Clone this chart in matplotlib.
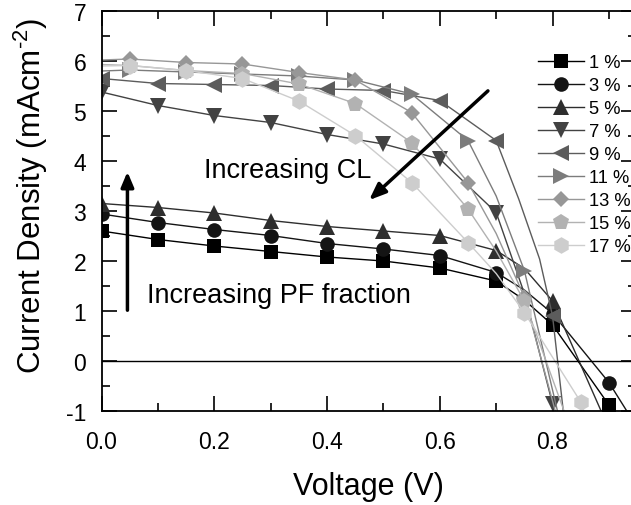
import matplotlib
matplotlib.use("Agg")
import matplotlib.pyplot as plt

plt.rcParams['font.family'] = ['Liberation Sans', 'DejaVu Sans']
plt.rcParams['mathtext.fontset'] = 'custom'
plt.rcParams['mathtext.rm'] = 'Liberation Sans'
plt.rcParams['axes.unicode_minus'] = False

# voltage grids where the markers sit
v_a = [0.0, 0.1, 0.2, 0.3, 0.4, 0.5, 0.6, 0.7, 0.8, 0.9]
v_b = [0.05, 0.15, 0.25, 0.35, 0.45, 0.55, 0.65, 0.75, 0.85]

labels = ['1 %', '3 %', '5 %', '7 %', '9 %', '11 %', '13 %', '15 %', '17 %']

# current density at the markers (mA cm^-2)
j_1 = [2.60, 2.43, 2.30, 2.19, 2.08, 2.00, 1.86, 1.60, 0.72, -0.88]
j_3 = [2.94, 2.77, 2.63, 2.51, 2.35, 2.24, 2.11, 1.77, 0.95, -0.43]
j_5 = [3.15, 3.07, 2.96, 2.81, 2.69, 2.60, 2.51, 2.21, 1.20]
j_7 = [5.38, 5.11, 4.91, 4.77, 4.53, 4.34, 4.04, 2.97, -0.86]
j_9 = [5.65, 5.55, 5.53, 5.51, 5.44, 5.41, 5.21, 4.41, 0.90]
j_11 = [5.82, 5.78, 5.74, 5.70, 5.62, 5.34, 4.41, 1.81]
j_13 = [6.04, 5.97, 5.94, 5.77, 5.62, 4.97, 3.57, 1.28]
j_15 = [5.91, 5.81, 5.75, 5.54, 5.15, 4.37, 3.04, 1.20]
j_17 = [5.91, 5.81, 5.65, 5.20, 4.51, 3.57, 2.37, 0.97, -0.82]

# extra points on the curves between / beyond the markers
ev_1 = [0.75, 0.92];        ej_1 = [1.22, -1.2]
ev_3 = [0.75, 0.94];        ej_3 = [1.42, -1.15]
ev_5 = [0.75, 0.89];        ej_5 = [1.85, -1.1]
ev_7 = [0.75, 0.805];       ej_7 = [1.35, -1.3]
ev_9 = [0.74, 0.777, 0.822]; ej_9 = [3.24, 2.04, -1.3]
ev_11 = [0.0, 0.70, 0.815]; ej_11 = [5.80, 3.30, -1.3]
ev_13 = [0.0, 0.70, 0.812]; ej_13 = [6.02, 2.55, -1.3]
ev_15 = [0.0, 0.70, 0.83];  ej_15 = [5.93, 2.20, -1.3]
ev_17 = [0.0, 0.70, 0.865]; ej_17 = [5.90, 1.75, -1.3]

series = [
    (v_a, j_1, ev_1, ej_1, 's', '#000000', 9.5),
    (v_a, j_3, ev_3, ej_3, 'o', '#141414', 10.5),
    (v_a, j_5, ev_5, ej_5, '^', '#2e2e2e', 12),
    (v_a, j_7, ev_7, ej_7, 'v', '#424242', 12),
    (v_a, j_9, ev_9, ej_9, '<', '#5c5c5c', 12),
    (v_b, j_11, ev_11, ej_11, '>', '#7c7c7c', 12),
    (v_b, j_13, ev_13, ej_13, 'D', '#979797', 8.5),
    (v_b, j_15, ev_15, ej_15, 'p', '#b2b2b2', 12),
    (v_b, j_17, ev_17, ej_17, 'h', '#cdcdcd', 12),
]

fig = plt.figure(figsize=(6.31, 5.06), dpi=100)
ax = fig.add_axes([101.5 / 631, 94 / 506, 534.5 / 631, 400 / 506])

for (vm, jm, ev, ej, mk, col, ms), lab in zip(series, labels):
    vv = list(vm[:len(jm)]) + ev
    jj = list(jm) + ej
    pts = sorted(zip(vv, jj))
    ax.plot([p[0] for p in pts], [p[1] for p in pts], '-', color=col, lw=1.0)
    ax.plot(vm[:len(jm)], jm, linestyle='none', marker=mk, color=col,
            markersize=ms, markeredgewidth=0)
    # legend proxy
    ax.plot([], [], '-', color=col, lw=1.0, marker=mk, markersize=ms,
            markeredgewidth=0, label=lab)

ax.axhline(0, color='black', lw=1.0)

ax.set_xlim(0, 0.948)
ax.set_ylim(-1, 7)
ax.set_xticks([0.0, 0.2, 0.4, 0.6, 0.8])
ax.set_xticks([0.1, 0.3, 0.5, 0.7, 0.9], minor=True)
ax.set_xticklabels(['0.0', '0.2', '0.4', '0.6', '0.8'])
ax.set_yticks(range(-1, 8))
ax.set_yticks([-0.5 + i for i in range(8)], minor=True)
ax.tick_params(which='both', direction='in', top=True, right=True, width=1.2)
ax.tick_params(which='major', length=11, labelsize=16.5)
ax.tick_params(which='minor', length=6)
ax.tick_params(axis='y', which='major', pad=11)
ax.tick_params(axis='x', which='major', pad=14)
for s in ax.spines.values():
    s.set_linewidth(1.3)

ax.set_xlabel('Voltage (V)', fontsize=22)
ax.set_ylabel(r'Current Density (mAcm$^{\text{-2}}$)', fontsize=22.5)
ax.xaxis.set_label_coords(0.5, -0.15)
ax.yaxis.set_label_coords(-0.097, 0.54)

# annotations
ax.annotate('', xy=(0.046, 3.84), xytext=(0.046, 0.96),
            arrowprops=dict(arrowstyle='-|>,head_length=0.9,head_width=0.38',
                            color='black', lw=2.5))
ax.annotate('', xy=(0.471, 3.18), xytext=(0.689, 5.44),
            arrowprops=dict(arrowstyle='-|>,head_length=1.0,head_width=0.4',
                            color='black', lw=2.5))
ax.text(0.182, 3.68, 'Increasing CL', fontsize=19.5, ha='left', va='baseline')
ax.text(0.08, 1.18, 'Increasing PF fraction', fontsize=19.5, ha='left',
        va='baseline')

ax.legend(loc='upper left', bbox_to_anchor=(538 / 631, 1 - 55 / 506),
          bbox_transform=fig.transFigure, frameon=False, fontsize=13.2,
          borderpad=0, borderaxespad=0, handlelength=2.5, handletextpad=0.3,
          labelspacing=0.33)

fig.savefig('out.png', dpi=100)
